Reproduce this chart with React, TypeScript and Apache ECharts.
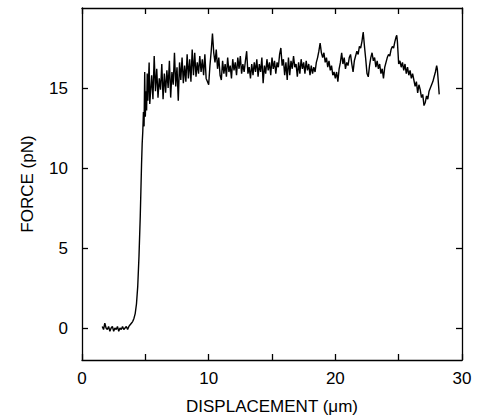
import React, { useEffect, useRef } from "react";
import * as echarts from "echarts";

const xTickValues = [0, 5, 10, 15, 20, 25, 30];
const xLabelValues = [0, 10, 20, 30];
const yTickValues = [0, 5, 10, 15];
const xTitle = "DISPLACEMENT (\u03bcm)";
const yTitle = "FORCE (pN)";

// [displacement (µm), force (pN)]
const trace: [number, number][] = [
  [1.6, 0.1], [1.7, -0.1], [1.8, 0.3], [1.9, 0.0], [2.0, -0.1], [2.1, 0.1], [2.2, -0.2], [2.3, 0.0],
  [2.4, 0.1], [2.5, -0.2], [2.6, 0.0], [2.7, -0.1], [2.8, 0.1], [2.9, -0.2], [3.0, 0.0], [3.1, -0.1],
  [3.2, 0.1], [3.3, -0.1], [3.4, 0.0], [3.5, 0.1], [3.6, -0.1], [3.7, 0.1], [3.8, 0.2], [3.9, 0.3],
  [4.0, 0.4], [4.1, 0.6], [4.2, 0.9], [4.3, 1.5], [4.4, 2.6], [4.5, 4.5], [4.6, 7.0], [4.65, 8.6],
  [4.7, 10.2], [4.75, 11.5], [4.8, 12.3], [4.85, 13.5], [4.9, 12.6], [4.95, 16.0], [5.0, 13.2],
  [5.05, 14.8], [5.1, 13.6], [5.15, 15.9], [5.2, 14.2], [5.3, 16.6], [5.35, 14.0], [5.4, 14.6], [5.5, 15.8],
  [5.6, 14.3], [5.7, 17.0], [5.8, 14.8], [5.9, 16.2], [6.0, 14.4], [6.1, 15.6], [6.2, 14.9], [6.3, 16.5],
  [6.4, 14.3], [6.5, 15.9], [6.6, 14.7], [6.7, 16.1], [6.8, 15.0], [6.9, 16.7], [7.0, 14.4], [7.1, 16.0],
  [7.2, 15.2], [7.3, 17.2], [7.4, 15.1], [7.5, 16.3], [7.6, 14.2], [7.7, 16.6], [7.8, 15.5], [7.9, 16.9],
  [8.0, 15.3], [8.1, 16.4], [8.2, 15.4], [8.3, 17.1], [8.4, 15.6], [8.5, 16.8], [8.6, 15.4], [8.7, 17.4],
  [8.8, 15.8], [8.9, 17.2], [9.0, 15.7], [9.1, 16.6], [9.2, 15.9], [9.3, 17.0], [9.4, 16.0], [9.5, 16.8],
  [9.6, 15.8], [9.7, 17.1], [9.8, 15.6], [9.9, 15.4], [10.0, 15.2], [10.1, 16.4], [10.2, 17.3],
  [10.3, 18.4], [10.4, 17.2], [10.5, 16.6], [10.6, 17.4], [10.7, 16.2], [10.8, 16.9], [10.9, 15.8],
  [11.0, 15.5], [11.1, 16.7], [11.2, 15.9], [11.3, 16.5], [11.4, 15.7], [11.5, 16.9], [11.6, 16.0],
  [11.7, 16.4], [11.8, 15.6], [11.9, 16.8], [12.0, 16.1], [12.1, 16.6], [12.2, 15.8], [12.3, 16.9],
  [12.4, 16.2], [12.5, 17.0], [12.6, 15.9], [12.7, 16.5], [12.8, 16.0], [12.9, 16.7], [13.0, 17.3],
  [13.1, 15.9], [13.2, 16.3], [13.3, 15.6], [13.4, 16.5], [13.5, 15.8], [13.6, 16.6], [13.7, 16.0],
  [13.8, 16.8], [13.9, 15.7], [14.0, 16.5], [14.1, 16.0], [14.2, 16.9], [14.3, 15.3], [14.4, 16.4],
  [14.5, 15.9], [14.6, 16.8], [14.7, 16.1], [14.8, 16.6], [14.9, 15.8], [15.0, 16.9], [15.1, 16.2],
  [15.2, 16.7], [15.3, 15.9], [15.4, 16.6], [15.5, 16.3], [15.6, 17.1], [15.7, 17.5], [15.8, 16.4],
  [15.9, 16.8], [16.0, 15.8], [16.1, 16.6], [16.2, 15.5], [16.3, 16.9], [16.4, 15.8], [16.5, 16.7],
  [16.6, 16.2], [16.7, 17.0], [16.8, 16.3], [16.9, 16.5], [17.0, 15.7], [17.1, 16.6], [17.2, 15.9],
  [17.3, 16.8], [17.4, 16.2], [17.5, 16.6], [17.6, 15.9], [17.7, 16.7], [17.8, 16.1], [17.9, 16.5],
  [18.0, 15.8], [18.1, 16.4], [18.2, 15.9], [18.3, 16.3], [18.4, 16.0], [18.5, 16.6], [18.6, 16.9],
  [18.7, 17.3], [18.8, 17.8], [18.9, 17.2], [19.0, 16.9], [19.1, 17.2], [19.2, 16.6], [19.3, 16.9],
  [19.4, 16.3], [19.5, 16.7], [19.6, 16.1], [19.7, 16.4], [19.8, 15.8], [19.9, 16.0], [20.0, 15.6],
  [20.1, 16.0], [20.2, 15.4], [20.3, 16.2], [20.4, 16.6], [20.5, 17.2], [20.6, 16.5], [20.7, 16.9],
  [20.8, 16.2], [20.9, 16.6], [21.0, 16.4], [21.1, 16.9], [21.2, 17.1], [21.3, 16.5], [21.4, 16.0],
  [21.5, 16.7], [21.6, 17.0], [21.7, 17.3], [21.8, 17.1], [21.9, 17.6], [22.0, 17.5], [22.1, 17.9],
  [22.2, 18.5], [22.3, 17.6], [22.4, 16.8], [22.5, 15.9], [22.6, 15.7], [22.7, 16.4], [22.8, 16.9],
  [22.9, 17.2], [23.0, 16.7], [23.1, 16.9], [23.2, 16.3], [23.3, 16.7], [23.4, 16.2], [23.5, 16.5],
  [23.6, 15.9], [23.7, 16.2], [23.8, 15.6], [23.9, 16.3], [24.0, 16.6], [24.1, 16.9], [24.2, 17.1],
  [24.3, 17.0], [24.4, 17.4], [24.5, 17.6], [24.6, 17.5], [24.7, 17.9], [24.8, 18.2], [24.85, 18.3],
  [24.9, 17.9], [25.0, 16.5], [25.1, 16.7], [25.2, 16.3], [25.3, 16.6], [25.4, 16.1], [25.5, 16.5],
  [25.6, 15.9], [25.7, 16.3], [25.8, 15.8], [25.9, 16.1], [26.0, 15.6], [26.1, 15.9], [26.2, 15.5],
  [26.3, 15.1], [26.4, 15.4], [26.5, 14.7], [26.6, 15.2], [26.7, 14.9], [26.8, 14.4], [26.9, 14.6],
  [27.0, 13.9], [27.1, 14.1], [27.2, 14.5], [27.3, 14.3], [27.4, 14.8], [27.5, 15.0], [27.6, 15.2],
  [27.7, 15.4], [27.8, 15.7], [27.9, 16.0], [28.0, 16.4], [28.05, 16.2], [28.1, 15.7], [28.2, 14.6],
];

const FONT = "'Liberation Sans', Arial, Helvetica, sans-serif";

export default function App() {
  const ref = useRef<HTMLDivElement>(null);
  useEffect(() => {
    if (!ref.current) return;
    const chart = echarts.init(ref.current, null, { renderer: "svg" });
    const lineStyle = { color: "#000", width: 1.3 };
    const axisLine = { show: true, onZero: false, lineStyle };
    const tick = { show: true, inside: true, length: 6, lineStyle };
    chart.setOption({
      animation: false,
      backgroundColor: "#fff",
      grid: { left: 82, top: 8, width: 380, height: 354, containLabel: false },
      xAxis: [
        {
          type: "value",
          position: "bottom",
          min: 0,
          max: 30,
          interval: 5,
          axisLine,
          axisTick: { ...tick, customValues: xTickValues },
          axisLabel: {
            customValues: xLabelValues,
            color: "#000",
            fontSize: 17,
            fontFamily: FONT,
            margin: 10,
          },
          splitLine: { show: false },
          name: xTitle,
          nameLocation: "middle",
          nameGap: 38,
          nameTextStyle: { color: "#000", fontSize: 17, fontFamily: FONT },
        },
        {
          type: "value",
          position: "top",
          min: 0,
          max: 30,
          interval: 5,
          axisLine,
          axisTick: { ...tick, customValues: xTickValues },
          axisLabel: { show: false },
          splitLine: { show: false },
        },
      ],
      yAxis: [
        {
          type: "value",
          position: "left",
          min: -2,
          max: 20,
          axisLine,
          axisTick: { ...tick, customValues: yTickValues },
          axisLabel: {
            customValues: yTickValues,
            color: "#000",
            fontSize: 17,
            fontFamily: FONT,
            margin: 14,
          },
          splitLine: { show: false },
          name: yTitle,
          nameLocation: "middle",
          nameGap: 46,
          nameRotate: 90,
          nameTextStyle: { color: "#000", fontSize: 17, fontFamily: FONT },
        },
        {
          type: "value",
          position: "right",
          min: -2,
          max: 20,
          axisLine,
          axisTick: { ...tick, customValues: yTickValues },
          axisLabel: { show: false },
          splitLine: { show: false },
        },
      ],
      series: [
        {
          type: "line",
          data: trace,
          xAxisIndex: 0,
          yAxisIndex: 0,
          showSymbol: false,
          symbol: "none",
          lineStyle: { color: "#000", width: 1.4 },
        },
      ],
    });
    return () => chart.dispose();
  }, []);
  return <div ref={ref} style={{ width: 477, height: 420, position: "absolute", left: 0, top: 0 }} />;
}
